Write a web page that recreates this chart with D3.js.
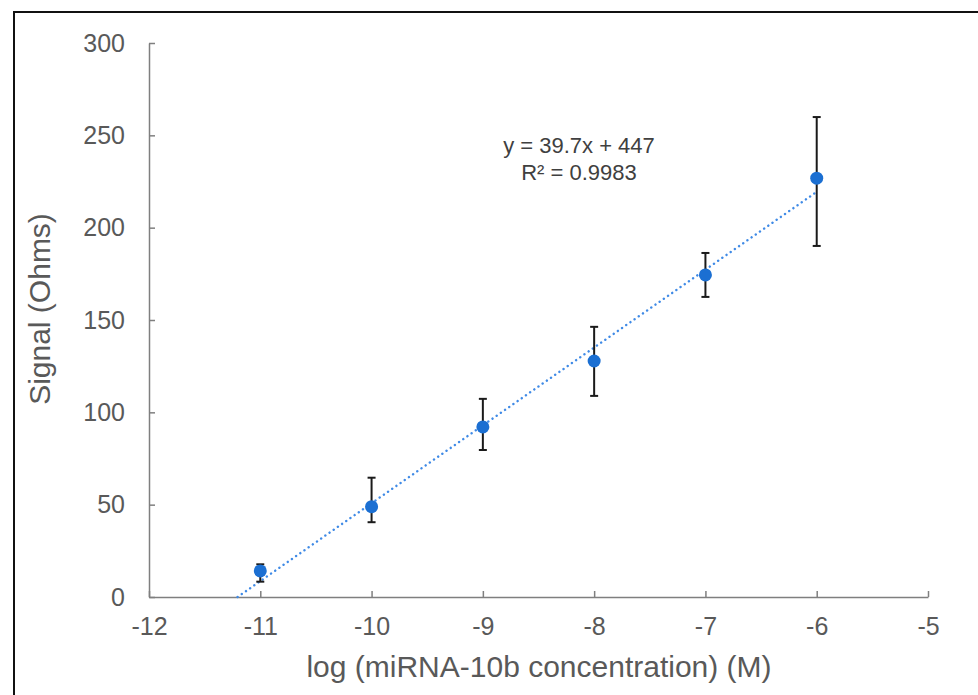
<!DOCTYPE html>
<html>
<head>
<meta charset="utf-8">
<script src="https://cdn.jsdelivr.net/npm/d3@7"></script>
<style>
  body { margin: 0; background: #fff; }
  text { font-family: "Liberation Sans", Arial, sans-serif; }
</style>
</head>
<body>
<svg id="chart" width="978" height="695"></svg>
<script>
// log concentration (M)
const logConc = [-11, -10, -9, -8, -7, -6];
// mean signal (Ohms)
const signal = [14.1, 48.9, 92.1, 127.8, 174.4, 226.8];
// error bar ends
const errLow = [8.3, 40.5, 79.6, 108.9, 162.5, 190.1];
const errHigh = [17.7, 64.6, 107.3, 146.3, 186.3, 259.9];

const xTicks = [-12, -11, -10, -9, -8, -7, -6, -5];
const yTicks = [0, 50, 100, 150, 200, 250, 300];

const svg = d3.select("#chart");

// frame (only left and top edges show in the picture)
svg.append("rect")
    .attr("x", 14).attr("y", 12)
    .attr("width", 1000).attr("height", 720)
    .attr("fill", "none")
    .attr("stroke", "#111")
    .attr("stroke-width", 2);

const x = d3.scaleLinear().domain([-12, -5]).range([149, 928]);
const y = d3.scaleLinear().domain([0, 300]).range([597, 43]);

const axisColor = "#7f7f7f";
const labelColor = "#595959";

// Y axis (ticks point inward)
const gy = svg.append("g")
    .attr("transform", `translate(${x(-12)},0)`)
    .call(d3.axisRight(y).tickValues(yTicks).tickSize(6).tickSizeOuter(0).tickFormat(d3.format("d")));
gy.select(".domain").attr("stroke", axisColor).attr("stroke-width", 1.5);
gy.selectAll(".tick line").attr("stroke", axisColor).attr("stroke-width", 1.5);
gy.selectAll(".tick text")
    .attr("x", -24)
    .attr("text-anchor", "end")
    .attr("fill", labelColor)
    .style("font-size", "25px");

// X axis (ticks point up)
const gx = svg.append("g")
    .attr("transform", `translate(0,${y(0)})`)
    .call(d3.axisTop(x).tickValues(xTicks).tickSize(6).tickSizeOuter(0).tickFormat(d3.format("d")));
gx.select(".domain").attr("stroke", axisColor).attr("stroke-width", 1.5);
gx.selectAll(".tick line").attr("stroke", axisColor).attr("stroke-width", 1.5);
gx.selectAll(".tick text")
    .attr("y", 38)
    .attr("dy", "0")
    .attr("fill", labelColor)
    .style("font-size", "25px");
// d3 uses U+2212 for minus; the chart uses a hyphen
gx.selectAll(".tick text").text(d => String(d));

// axis titles
svg.append("text")
    .attr("x", 539).attr("y", 677)
    .attr("text-anchor", "middle")
    .attr("fill", labelColor)
    .style("font-size", "30px")
    .text("log (miRNA-10b concentration) (M)");

svg.append("text")
    .attr("transform", "translate(50,309) rotate(-90)")
    .attr("text-anchor", "middle")
    .attr("fill", labelColor)
    .style("font-size", "30px")
    .text("Signal (Ohms)");

// least squares trendline through the points, clipped at y = 0
const mx = d3.mean(logConc), my = d3.mean(signal);
const sxy = d3.sum(logConc, (d, i) => (d - mx) * (signal[i] - my));
const sxx = d3.sum(logConc, d => (d - mx) * (d - mx));
const slope = sxy / sxx, icept = my - slope * mx;
const xStart = -icept / slope;
const xEnd = d3.max(logConc);

svg.append("line")
    .attr("x1", x(xStart)).attr("y1", y(slope * xStart + icept))
    .attr("x2", x(xEnd)).attr("y2", y(slope * xEnd + icept))
    .attr("stroke", "#3f8ae6")
    .attr("stroke-width", 2.4)
    .attr("stroke-linecap", "round")
    .attr("stroke-dasharray", "0.1,5");

// error bars
const pts = logConc.map((d, i) => ({ x: d, y: signal[i], lo: errLow[i], hi: errHigh[i] }));
const eb = svg.append("g").selectAll("g").data(pts).join("g");
eb.append("line")
    .attr("x1", d => x(d.x)).attr("x2", d => x(d.x))
    .attr("y1", d => y(d.lo)).attr("y2", d => y(d.hi))
    .attr("stroke", "#1a1a1a").attr("stroke-width", 2);
eb.append("line")
    .attr("x1", d => x(d.x) - 4).attr("x2", d => x(d.x) + 4)
    .attr("y1", d => y(d.lo)).attr("y2", d => y(d.lo))
    .attr("stroke", "#1a1a1a").attr("stroke-width", 2);
eb.append("line")
    .attr("x1", d => x(d.x) - 4).attr("x2", d => x(d.x) + 4)
    .attr("y1", d => y(d.hi)).attr("y2", d => y(d.hi))
    .attr("stroke", "#1a1a1a").attr("stroke-width", 2);

// points
svg.append("g").selectAll("circle").data(pts).join("circle")
    .attr("cx", d => x(d.x)).attr("cy", d => y(d.y))
    .attr("r", 6.5)
    .attr("fill", "#1b6fd2");

// equation label
const eq = svg.append("text")
    .attr("text-anchor", "middle")
    .attr("fill", "#404040")
    .style("font-size", "22px");
eq.append("tspan").attr("x", 579).attr("y", 153).text("y = 39.7x + 447");
eq.append("tspan").attr("x", 579).attr("y", 180).text("R² = 0.9983");
</script>
</body>
</html>
